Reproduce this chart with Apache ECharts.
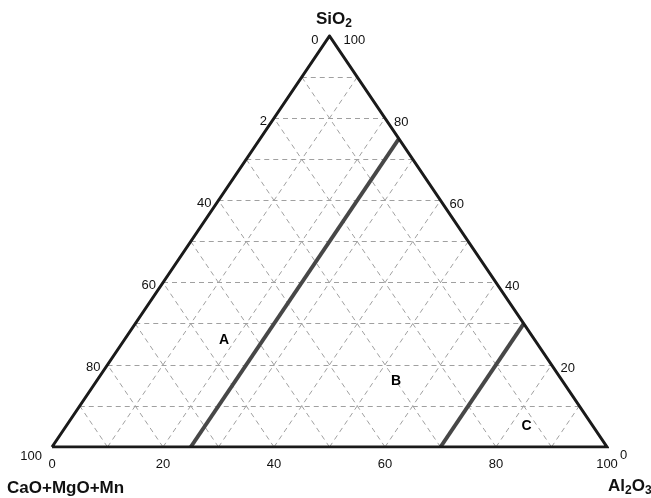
<!DOCTYPE html>
<html>
<head>
<meta charset="utf-8">
<script src="https://cdn.jsdelivr.net/npm/echarts@6/dist/echarts.min.js"></script>
<style>
  html, body { margin: 0; padding: 0; background: #fff; }
  #chart { width: 651px; height: 498px; }
</style>
</head>
<body>
<div id="chart"></div>
<script>
// 网格间隔 (每 10%)
const gridLevels = [10, 20, 30, 40, 50, 60, 70, 80, 90];
// 左边 CaO+MgO+Mn 刻度
const caoTickValues = [80, 60, 40, 20];
const caoTickLabels = ['80', '60', '40', '2'];
// 右边 SiO2 刻度
const sio2TickValues = [80, 60, 40, 20];
const sio2TickLabels = ['80', '60', '40', '20'];
// 底边 Al2O3 刻度
const al2o3TickValues = [0, 20, 40, 60, 80, 100];
const al2o3TickLabels = ['0', '20', '40', '60', '80', '100'];
// 分区界线: Al2O3 恒定, SiO2 范围
const boundaryAl2o3 = [25, 70];
const boundarySio2Max = [75, 30];
// 分区标注 [Al2O3, SiO2]
const regionNames = ['A', 'B', 'C'];
const regionAl2o3 = [18, 54, 83];
const regionSio2 = [26, 16, 5];

const font = "'Liberation Sans', Arial, sans-serif";

// 三元坐标 -> 直角坐标
function toXY (al, si) {
  return [al + si / 2, si];
}

const gridSegs = [];
gridLevels.forEach(k => {
  // 平行于底边 (SiO2 = k)
  gridSegs.push({ coords: [toXY(0, k), toXY(100 - k, k)] });
  // 平行于左边 (Al2O3 = k)
  gridSegs.push({ coords: [toXY(k, 0), toXY(k, 100 - k)] });
  // 平行于右边 (CaO = k)
  gridSegs.push({ coords: [toXY(100 - k, 0), toXY(0, 100 - k)] });
});

const boundarySegs = boundaryAl2o3.map((a, i) => ({
  coords: [toXY(a, 0), toXY(a, boundarySio2Max[i])]
}));

const leftLabels = caoTickValues.map((v, i) => ({ value: toXY(0, 100 - v), name: caoTickLabels[i] }));
const rightLabels = sio2TickValues.map((v, i) => ({ value: toXY(100 - v, v), name: sio2TickLabels[i] }));
const bottomLabels = al2o3TickValues.map((v, i) => ({ value: toXY(v, 0), name: al2o3TickLabels[i] }));
const regionLabels = regionNames.map((n, i) => ({ value: toXY(regionAl2o3[i], regionSio2[i]), name: n }));

function labelSeries (data, label) {
  return {
    type: 'scatter',
    symbolSize: 0,
    silent: true,
    itemStyle: { opacity: 1 },
    data: data,
    label: Object.assign({
      show: true,
      formatter: p => p.name,
      color: '#111',
      textBorderWidth: 0,
      fontSize: 13,
      fontFamily: font
    }, label)
  };
}

const subStyle = { fontSize: 12, fontWeight: 'bold', fontFamily: font, color: '#111', padding: [9, 0, 0, 0] };

const chart = echarts.init(document.getElementById('chart'));
chart.setOption({
  animation: false,
  backgroundColor: '#fff',
  grid: { left: 52, right: 44, top: 36, bottom: 51 },
  xAxis: { type: 'value', min: 0, max: 100, show: false },
  yAxis: { type: 'value', min: 0, max: 100, show: false },
  title: [
    {
      text: 'SiO{sub|2}', left: 311, top: 4,
      textStyle: { fontSize: 17, fontWeight: 'bold', fontFamily: font, color: '#111', rich: { sub: subStyle } }
    },
    {
      text: 'CaO+MgO+Mn', left: 2, top: 475,
      textStyle: { fontSize: 17, fontWeight: 'bold', fontFamily: font, color: '#111' }
    },
    {
      text: 'Al{sub|2}O{sub|3}', left: 603, top: 471,
      textStyle: { fontSize: 17, fontWeight: 'bold', fontFamily: font, color: '#111', rich: { sub: subStyle } }
    }
  ],
  series: [
    {
      type: 'lines',
      coordinateSystem: 'cartesian2d',
      silent: true,
      data: gridSegs,
      lineStyle: { color: '#a0a0a0', width: 1, type: [5, 4], opacity: 1 }
    },
    {
      type: 'lines',
      coordinateSystem: 'cartesian2d',
      silent: true,
      data: boundarySegs,
      lineStyle: { color: '#474747', width: 4, opacity: 1 }
    },
    {
      type: 'line',
      silent: true,
      symbol: 'none',
      data: [toXY(0, 0), toXY(100, 0), toXY(0, 100), toXY(0, 0)],
      lineStyle: { color: '#1a1a1a', width: 3, join: 'miter' }
    },
    labelSeries(leftLabels, { position: 'left', distance: 7, offset: [0, 3] }),
    labelSeries(rightLabels, { position: 'right', distance: 9, offset: [0, 4] }),
    labelSeries(bottomLabels, { position: 'bottom', distance: 11 }),
    labelSeries([{ value: toXY(0, 0), name: '100' }], { position: 'left', distance: 10, offset: [0, 9] }),
    labelSeries([{ value: toXY(0, 100), name: '0' }], { position: 'left', distance: 11, offset: [0, 4] }),
    labelSeries([{ value: toXY(0, 100), name: '100' }], { position: 'right', distance: 14, offset: [0, 4] }),
    labelSeries([{ value: toXY(100, 0), name: '0' }], { position: 'right', distance: 13, offset: [0, 8] }),
    labelSeries(regionLabels, { position: 'inside', fontWeight: 'bold', fontSize: 14, color: '#000' })
  ]
});
</script>
</body>
</html>
